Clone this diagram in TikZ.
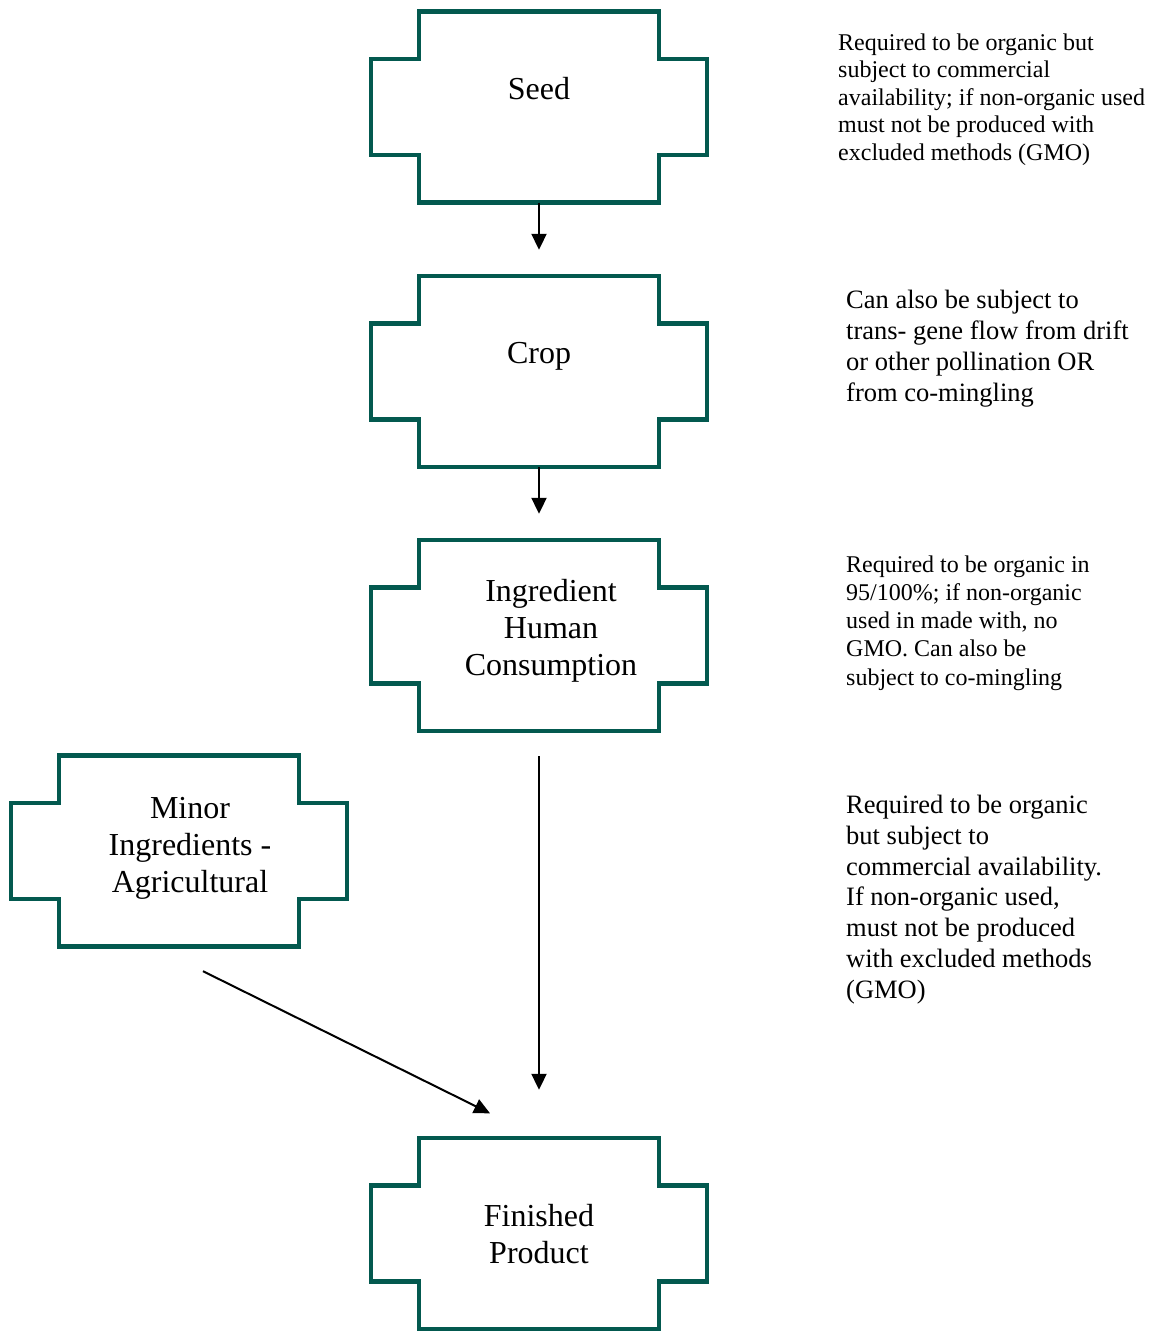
\documentclass[tikz,border=0pt]{standalone}
\usepackage{fontspec}
\setmainfont{Liberation Serif}
\usetikzlibrary{arrows.meta}
\definecolor{boxteal}{HTML}{03594F}
\tikzset{
  x=1pt, y=-1pt,
  boxnode/.style={inner sep=0pt, minimum width=336pt, minimum height=191pt},
  boxtext/.style={align=center, inner sep=0pt, font=\fontsize{32}{37}\selectfont},
  notetext/.style={align=left, inner sep=0pt, anchor=base west},
  flowarrow/.style={line width=2pt, -{Triangle[width=15pt,length=16pt]}},
  crossbox/.pic={
    \draw[boxteal, line width=4.6pt, line join=miter]
      (-120,-95.5) -- (120,-95.5) -- (120,-48) -- (168,-48) -- (168,48)
      -- (120,48) -- (120,95.5) -- (-120,95.5) -- (-120,48) -- (-168,48)
      -- (-168,-48) -- (-120,-48) -- cycle;
  }
}
\begin{document}
\begin{tikzpicture}
\useasboundingbox[fill=white] (0,0) rectangle (1161,1331);

% boxes
\node[boxnode] (seed) at (539,107) {};
\pic at (seed.center) {crossbox};
\node[boxtext] (seedt) at (539,89) {Seed};

\node[boxnode] (crop) at (539,371.5) {};
\pic at (crop.center) {crossbox};
\node[boxtext] (cropt) at (539,356) {Crop};

\node[boxnode] (ingr) at (539,635.5) {};
\pic at (ingr.center) {crossbox};
\node[boxtext] (ingrt) at (551,631) {Ingredient\\Human\\Consumption};

\node[boxnode] (minor) at (179,851) {};
\pic at (minor.center) {crossbox};
\node[boxtext] (minort) at (190,848) {Minor\\Ingredients -\\Agricultural};

\node[boxnode] (fin) at (539,1233.5) {};
\pic at (fin.center) {crossbox};
\node[boxtext] (fint) at (539,1234.5) {Finished\\Product};

% connectors
\draw[flowarrow] (seed.south) -- ([yshift=26pt]crop.north);
\draw[flowarrow] (crop.south) -- ([yshift=26pt]ingr.north);
\draw[flowarrow] ([yshift=-25pt]ingr.south) -- ([yshift=48pt]fin.north);
\draw[flowarrow] ([xshift=24pt,yshift=-24.5pt]minor.south) -- ([xshift=-49pt,yshift=24.5pt]fin.north);

% notes (anchored at the baseline of the last line)
\node[notetext, font=\fontsize{24}{27.5}\selectfont] (n1) at (838,160)
  {Required to be organic but\\subject to commercial\\availability; if non-organic used\\must not be produced with\\excluded methods (GMO)};
\node[notetext, font=\fontsize{26.5}{30.7}\selectfont] (n2) at (846,401)
  {Can also be subject to\\trans- gene flow from drift\\or other pollination OR\\from co-mingling};
\node[notetext, font=\fontsize{24}{28.2}\selectfont] (n3) at (846,685)
  {Required to be organic in\\95/100\%; if non-organic\\used in made with, no\\GMO. Can also be\\subject to co-mingling};
\node[notetext, font=\fontsize{26.5}{30.7}\selectfont] (n4) at (846,998)
  {Required to be organic\\but subject to\\commercial availability.\\If non-organic used,\\must not be produced\\with excluded methods\\(GMO)};
\end{tikzpicture}
\end{document}
